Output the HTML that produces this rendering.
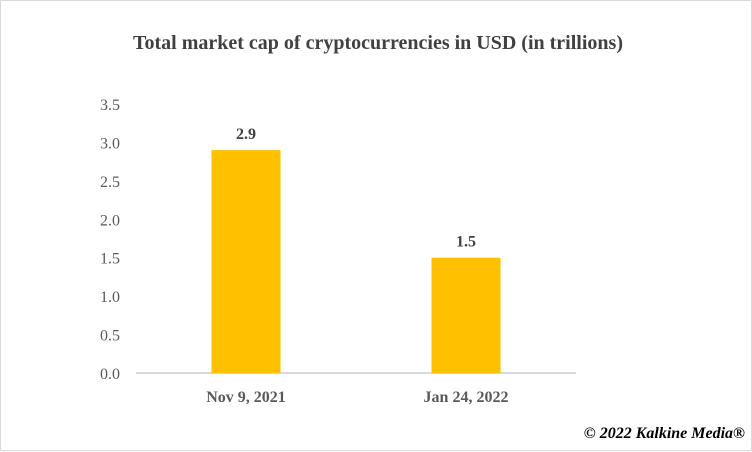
<!DOCTYPE html>
<html><head><meta charset="utf-8"><style>
body{margin:0;background:#fff}
svg{display:block;font-family:"Liberation Serif",serif}
</style></head><body>
<svg width="752" height="452" id="c">
<rect x="0.5" y="0.5" width="751" height="450" fill="#fff" stroke="#d9d9d9"/>
<text x="378" y="49" text-anchor="middle" font-size="20" font-weight="bold" fill="#404040">Total market cap of cryptocurrencies in USD (in trillions)</text>
<line x1="136" y1="373" x2="576" y2="373" stroke="#d9d9d9" stroke-width="2"/>
<g id="g"></g>
<text x="745" y="438" text-anchor="end" font-size="16" font-weight="bold" font-style="italic" fill="#000">© 2022 Kalkine Media®</text>
</svg>
<script>
const categories=["Nov 9, 2021","Jan 24, 2022"];
const values=[2.9,1.5];
const valueLabels=["2.9","1.5"];
const ticks=[0,0.5,1,1.5,2,2.5,3,3.5];
const g=document.getElementById('g');
const ns="http://www.w3.org/2000/svg";
const y=v=>373-v*(269/3.5);
const x=i=>136+110+i*220;
function mk(t,a,txt){const e=document.createElementNS(ns,t);for(const k in a)e.setAttribute(k,a[k]);if(txt!==undefined)e.textContent=txt;g.appendChild(e);return e;}
ticks.forEach(t=>{
const e=mk('text',{x:120,y:y(t)+6,'text-anchor':'end','font-size':16,fill:'#595959'},t.toFixed(1));


});
categories.forEach((c,i)=>{
const b=mk('rect',{x:x(i)-34.5,y:y(values[i]),width:69,height:373-y(values[i]),fill:'#ffc000'});


const l=mk('text',{x:x(i),y:y(values[i])-11,'text-anchor':'middle','font-size':16,'font-weight':'bold',fill:'#404040'},valueLabels[i]);


const cl=mk('text',{x:x(i),y:402,'text-anchor':'middle','font-size':16,'font-weight':'bold',fill:'#595959'},c);


});
</script>
</body></html>
